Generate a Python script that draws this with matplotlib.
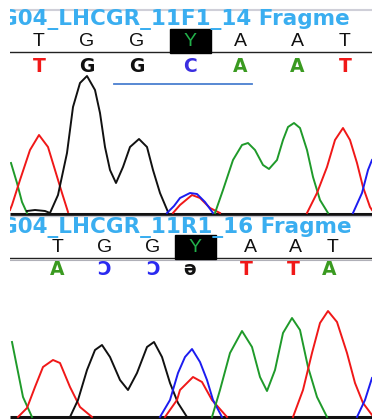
import matplotlib
matplotlib.use("Agg")
import matplotlib.pyplot as plt

# ---- data (x in px along trace, h = signal height above baseline) ----
titles = ["G04_LHCGR_11F1_14 Fragme", "G04_LHCGR_11R1_16 Fragme"]
calls_top = ["T", "G", "G", "Y", "A", "A", "T"]
calls_f = ["T", "G", "G", "C", "A", "A", "T"]
calls_r = ["A", "Ɔ", "Ɔ", "ə", "T", "T", "A"]
pos_top1 = [39, 87, 137, 190, 240, 297, 345]
pos_top2 = [58, 105, 153, 195, 250, 295, 333]
pos_r = [57, 104, 153, 190, 246, 293, 329]

# panel 1 traces
k1_x = [27, 35, 45, 50, 58, 67, 73, 80, 87, 95, 100, 105, 110, 116, 123, 130, 139, 147, 153, 160, 168]
k1_h = [2, 3, 2, 0, 18, 60, 106, 130, 137, 123, 100, 66, 43, 30, 46, 66, 74, 66, 43, 20, 1]
r1a_x = [10, 12, 20, 30, 39, 48, 55, 62, 68]
r1a_h = [3, 8, 33, 63, 78, 66, 43, 20, 1]
g1a_x = [11, 17, 22, 27]
g1a_h = [50, 30, 11, 0]
b1a_x = [167, 174, 180, 190, 197, 205, 213]
b1a_h = [0, 7, 15, 20, 19, 11, 0]
r1b_x = [173, 180, 192, 200, 210, 220]
r1b_h = [0, 8, 18, 15, 5, 0]
g1b_x = [215, 223, 233, 242, 248, 255, 263, 269, 277, 283, 288, 294, 300, 307, 313, 320, 328]
g1b_h = [0, 23, 53, 68, 70, 63, 48, 44, 53, 73, 86, 90, 85, 63, 36, 13, 0]
r1c_x = [307, 317, 327, 335, 343, 350, 357, 363, 370, 372]
r1c_h = [0, 20, 46, 73, 85, 73, 50, 26, 6, 3]
b1b_x = [353, 362, 368, 372]
b1b_h = [0, 20, 43, 53]

# panel 2 traces
g2a_x = [12, 17, 23, 32]
g2a_h = [75, 50, 20, 0]
r2a_x = [18, 27, 35, 43, 53, 60, 70, 80, 92]
r2a_h = [0, 9, 30, 50, 57, 54, 30, 10, 0]
k2_x = [70, 78, 87, 95, 102, 110, 120, 128, 137, 147, 154, 162, 170, 178, 187]
k2_h = [0, 17, 47, 67, 72, 60, 37, 27, 44, 70, 75, 60, 34, 14, 0]
b2a_x = [160, 170, 178, 185, 192, 200, 207, 213, 222]
b2a_h = [0, 17, 44, 60, 68, 55, 37, 17, 0]
r2b_x = [165, 177, 180, 193, 202, 212, 227]
r2b_h = [0, 17, 27, 40, 35, 17, 0]
g2b_x = [212, 220, 230, 242, 252, 260, 267, 275, 283, 292, 300, 308, 317, 327]
g2b_h = [0, 27, 64, 86, 70, 40, 26, 47, 84, 99, 87, 50, 20, 0]
r2c_x = [293, 303, 312, 320, 328, 337, 347, 355, 363, 372]
r2c_h = [0, 27, 64, 94, 106, 95, 64, 34, 14, 2]
b2b_x = [357, 365, 372]
b2b_h = [0, 17, 39]

RED, GREEN, BLUE, BLACK = "#f01818", "#1f9a2a", "#1c1cf0", "#111111"
BASE_COL = {"T": RED, "G": BLACK, "C": "#3a2ee0", "A": "#3a9a20",
            "Ɔ": "#2a2af0", "ə": BLACK}
TITLE_COL = "#3aaef0"

fig = plt.figure(figsize=(3.72, 4.19), dpi=100)
ax = fig.add_axes([10 / 372, 0, 362 / 372, 1])
ax.set_xlim(10, 372)
ax.set_ylim(419, 0)
ax.axis("off")

# frame lines
ax.plot([10, 372], [10, 10], color="#cfcfd8", lw=1.5)
for yb, yl in [(213.5, 52), (417, 258)]:
    ax.plot([10, 372], [yb, yb], color=BLACK, lw=2.2, solid_capstyle="butt")
    ax.plot([10, 372], [yl, yl], color="#222222", lw=1.0)
ax.plot([10, 372], [216, 216], color="#c8c8d0", lw=1.0)
ax.plot([10, 372], [259.5, 259.5], color="#b0b0b8", lw=0.8)

# titles
for t, y in zip(titles, [20, 227]):
    ax.text(0, y, t, color=TITLE_COL, fontsize=15.5, fontweight="bold",
            family="DejaVu Sans", ha="left", va="center", clip_on=True)

# basecalls rows
for pos, y in [(pos_top1, 41), (pos_top2, 247)]:
    for x, c in zip(pos, calls_top):
        if c == "Y":
            ax.add_patch(plt.Rectangle((x - 20, y - 12), 41, 24, color="black", zorder=2))
            ax.text(x, y, c, color="#22b04a", fontsize=14, ha="center", va="center",
                    family="Liberation Sans", zorder=3)
        else:
            ax.text(x, y, c, color=BLACK, fontsize=14, ha="center", va="center",
                    family="Liberation Sans")

for x, c in zip(pos_top1, calls_f):
    ax.text(x, 66, c, color=BASE_COL[c], fontsize=13.5, fontweight="bold",
            ha="center", va="center", family="DejaVu Sans")
for x, c in zip(pos_r, calls_r):
    ax.text(x, 269, c, color=BASE_COL[c], fontsize=13.5, fontweight="bold",
            ha="center", va="center", family="DejaVu Sans")

ax.plot([114, 252], [84, 84], color="#4a7fd0", lw=1.3)

# traces
traces1 = [(g1a_x, g1a_h, GREEN), (r1a_x, r1a_h, RED), (k1_x, k1_h, BLACK),
           (r1b_x, r1b_h, RED), (b1a_x, b1a_h, BLUE), (g1b_x, g1b_h, GREEN),
           (r1c_x, r1c_h, RED), (b1b_x, b1b_h, BLUE)]
traces2 = [(g2a_x, g2a_h, GREEN), (r2a_x, r2a_h, RED), (k2_x, k2_h, BLACK),
           (r2b_x, r2b_h, RED), (b2a_x, b2a_h, BLUE), (g2b_x, g2b_h, GREEN),
           (r2c_x, r2c_h, RED), (b2b_x, b2b_h, BLUE)]
for traces, base in [(traces1, 213), (traces2, 417)]:
    for xs, hs, col in traces:
        ax.plot(xs, [base - h for h in hs], color=col, lw=1.4,
                solid_joinstyle="round", zorder=4)

fig.savefig("out.png", dpi=100)
